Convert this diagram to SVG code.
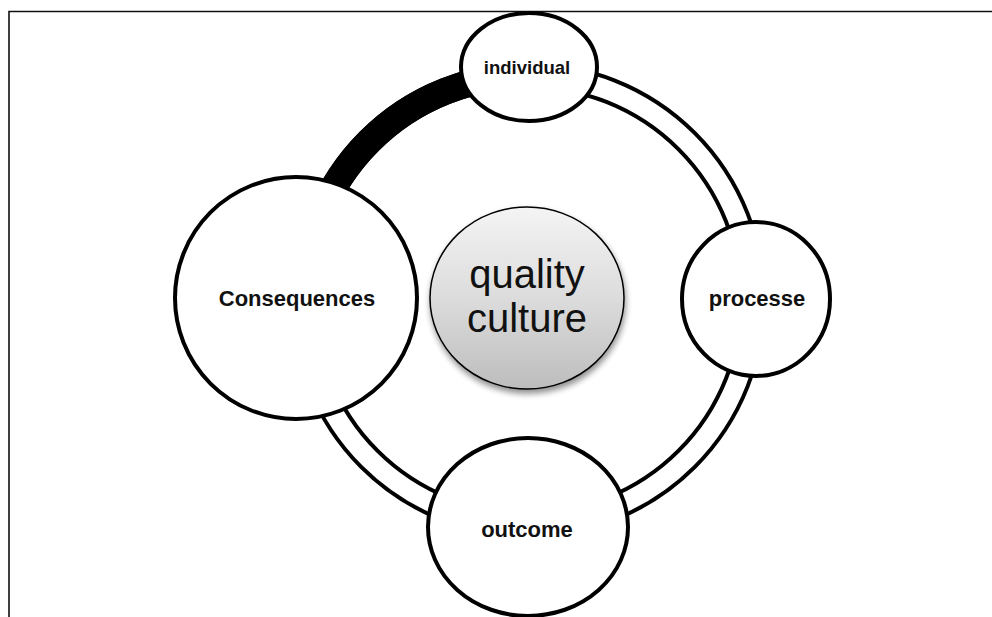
<svg xmlns="http://www.w3.org/2000/svg" width="992" height="617" viewBox="0 0 992 617">
  <defs>
    <linearGradient id="qcFill" x1="0" y1="0" x2="0" y2="1">
      <stop offset="0" stop-color="#f4f4f4"/>
      <stop offset="0.5" stop-color="#dcdcdc"/>
      <stop offset="1" stop-color="#bdbdbd"/>
    </linearGradient>
    <filter id="softShadow" x="-20%" y="-20%" width="140%" height="150%">
      <feGaussianBlur in="SourceAlpha" stdDeviation="3"/>
      <feOffset dx="1" dy="4" result="b"/>
      <feComponentTransfer><feFuncA type="linear" slope="0.45"/></feComponentTransfer>
      <feMerge><feMergeNode/><feMergeNode in="SourceGraphic"/></feMerge>
    </filter>
  </defs>
  <style>
    .node { fill: #ffffff; stroke: #000000; stroke-width: 4; }
    .lbl { font-family: "Liberation Sans", Arial, sans-serif; font-weight: bold; font-size: 22px; fill: #111111; text-anchor: middle; }
    .big { font-family: "Liberation Sans", Arial, sans-serif; font-size: 40px; fill: #111111; text-anchor: middle; }
  </style>

  <!-- frame -->
  <path d="M9 617 V11.5 H992" fill="none" stroke="#111111" stroke-width="1.6"/>

  <!-- cycle band linking the nodes -->
  <g id="connectors">
    <circle cx="528" cy="300" r="224.5" fill="none" stroke="#000000" stroke-width="27"/>
    <circle cx="528" cy="300" r="224.5" fill="none" stroke="#ffffff" stroke-width="19"/>
    <path d="M303.5 300 A224.5 224.5 0 0 1 528 75.5" fill="none" stroke="#000000" stroke-width="27"/>
  </g>

  <g id="quality-culture">
    <ellipse cx="527" cy="298" rx="97" ry="91" fill="url(#qcFill)" stroke="#000000" stroke-width="1.5" filter="url(#softShadow)"/>
    <text class="big" x="527" y="288">quality</text>
    <text class="big" x="527" y="332">culture</text>
  </g>

  <g id="individual">
    <ellipse class="node" cx="529" cy="67" rx="68" ry="54"/>
    <text class="lbl" x="527" y="74" style="font-size:18.5px">individual</text>
  </g>

  <g id="processe">
    <ellipse class="node" cx="756" cy="299" rx="74" ry="77"/>
    <text class="lbl" x="757" y="306">processe</text>
  </g>

  <g id="outcome">
    <ellipse class="node" cx="528" cy="527" rx="100" ry="89"/>
    <text class="lbl" x="527" y="537">outcome</text>
  </g>

  <g id="consequences">
    <circle class="node" cx="296" cy="298" r="121"/>
    <text class="lbl" x="297" y="306">Consequences</text>
  </g>
</svg>
